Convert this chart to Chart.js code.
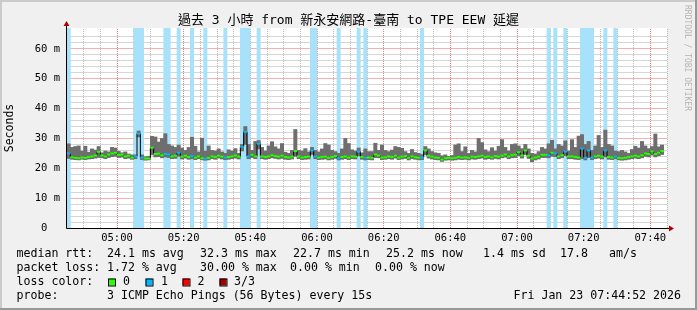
<!DOCTYPE html>
<html>
<head>
<meta charset="utf-8">
<script src="https://cdn.jsdelivr.net/npm/chart.js@4.4.1/dist/chart.umd.min.js"></script>
<style>
  html, body { margin: 0; padding: 0; background: #f0f0f0; }
  canvas { display: block; }
</style>
</head>
<body>
<canvas id="smoke" width="697" height="310"></canvas>
<script>
// one sample per minute, 04:45 .. 07:44 (ms)
var median = [
    25.0, 23.7, 23.5, 23.4, 23.6, 23.5, 23.8, 24.0, 24.3, 25.5,
    24.3, 24.0, 24.6, 25.0, 25.2, 24.5, 24.6, 24.0, 24.2, 23.6,
    24.0, 31.6, 23.6, 23.3, 23.3, 26.9, 24.8, 24.9, 24.4, 24.8,
    24.6, 24.0, 24.2, 25.2, 23.9, 24.2, 23.8, 24.1, 23.6, 24.0,
    23.4, 23.3, 23.5, 24.0, 23.8, 24.2, 23.9, 23.6, 23.8, 24.0,
    24.3, 23.9, 27.2, 32.2, 24.0, 24.5, 24.0, 28.2, 24.0, 23.8,
    24.0, 24.4, 24.1, 23.9, 24.2, 23.8, 23.6, 23.9, 25.8, 24.0,
    23.6, 23.8, 23.9, 26.0, 24.0, 23.6, 23.8, 23.9, 23.5, 23.8,
    24.1, 23.4, 23.8, 24.0, 23.6, 24.0, 23.9, 25.6, 23.8, 23.5,
    23.6, 23.5, 24.6, 24.3, 23.6, 23.7, 24.0, 23.8, 24.2, 23.6,
    23.9, 24.1, 23.5, 24.0, 23.7, 23.5, 23.6, 26.0, 24.2, 23.9,
    23.6, 23.5, 22.9, 23.4, 23.5, 23.4, 23.5, 23.8, 23.6, 23.7,
    23.5, 23.9, 23.8, 24.0, 24.2, 23.8, 24.0, 23.7, 24.1, 23.9,
    24.3, 24.6, 24.0, 24.4, 24.6, 25.4, 24.3, 26.0, 24.2, 23.3,
    23.6, 23.9, 24.5, 24.5, 24.4, 25.2, 25.0, 24.0, 24.4, 25.6,
    24.0, 24.0, 23.8, 23.6, 26.6, 23.5, 26.0, 23.6, 24.0, 24.2,
    23.9, 26.0, 23.8, 23.6, 24.0, 23.5, 23.4, 23.5, 23.8, 24.0,
    24.2, 24.0, 24.4, 25.0, 24.8, 25.6, 24.8, 25.2, 25.8
];
var pingMin = [
    23.3, 23.0, 22.9, 22.8, 23.0, 22.9, 23.1, 23.2, 23.4, 23.6,
    23.5, 23.2, 23.6, 23.9, 24.0, 23.6, 23.7, 23.2, 23.4, 23.0,
    23.2, 30.5, 22.9, 22.7, 22.8, 24.5, 23.8, 23.9, 23.5, 23.8,
    23.6, 23.2, 23.3, 24.0, 23.1, 23.4, 23.0, 23.2, 22.9, 23.2,
    22.8, 22.7, 22.8, 23.2, 23.0, 23.4, 23.1, 22.9, 23.0, 23.2,
    23.4, 23.1, 25.8, 28.0, 23.2, 23.6, 23.2, 26.5, 23.2, 23.0,
    23.2, 23.5, 23.3, 23.1, 23.3, 23.0, 22.9, 23.1, 24.0, 23.2,
    22.9, 23.0, 23.1, 24.6, 23.2, 22.9, 23.0, 23.1, 22.8, 23.0,
    23.3, 22.8, 23.0, 23.2, 22.9, 23.2, 23.1, 24.2, 23.0, 22.8,
    22.9, 22.8, 23.6, 23.5, 22.9, 23.0, 23.2, 23.0, 23.4, 22.9,
    23.1, 23.3, 22.8, 23.2, 23.0, 22.8, 22.9, 24.5, 23.4, 23.1,
    22.9, 22.8, 22.3, 22.7, 22.8, 22.7, 22.8, 23.0, 22.9, 23.0,
    22.8, 23.1, 23.0, 23.2, 23.4, 23.0, 23.2, 23.0, 23.3, 23.1,
    23.5, 23.7, 23.2, 23.5, 23.6, 24.2, 23.4, 24.6, 23.3, 22.2,
    22.8, 23.1, 23.6, 23.6, 23.5, 24.0, 23.9, 23.2, 23.5, 24.2,
    23.2, 23.2, 23.0, 22.9, 23.2, 22.8, 23.6, 22.9, 23.2, 23.4,
    23.1, 23.8, 23.0, 22.9, 23.2, 22.8, 22.7, 22.8, 23.0, 23.2,
    23.4, 23.2, 23.5, 24.0, 23.8, 24.4, 23.8, 24.2, 24.6
];
var pingMax = [
    28.2, 27.0, 27.3, 27.5, 25.8, 27.4, 25.4, 26.5, 26.1, 27.3,
    25.2, 25.8, 25.5, 27.0, 26.8, 25.7, 25.2, 25.5, 24.8, 24.5,
    24.5, 32.5, 24.5, 23.9, 24.0, 30.7, 30.5, 28.8, 30.0, 31.6,
    28.0, 27.5, 27.0, 27.8, 26.8, 26.0, 27.0, 30.4, 27.4, 25.5,
    30.1, 25.8, 27.5, 26.0, 25.8, 26.5, 25.5, 25.0, 26.2, 25.8,
    26.6, 25.0, 28.0, 34.0, 28.0, 26.0, 29.0, 29.3, 27.0, 25.8,
    27.5, 28.9, 27.2, 26.5, 28.3, 25.4, 25.0, 26.0, 33.0, 26.0,
    25.8, 26.6, 25.5, 27.0, 26.0, 25.5, 26.5, 28.3, 27.8, 26.0,
    25.6, 25.0, 26.5, 30.0, 28.3, 26.2, 25.8, 26.8, 25.2, 26.5,
    25.6, 25.6, 28.4, 26.0, 27.8, 26.0, 25.6, 26.1, 27.3, 27.0,
    26.7, 25.6, 25.0, 26.3, 25.3, 25.0, 24.6, 27.3, 26.5, 25.6,
    25.2, 25.0, 24.2, 24.5, 24.0, 24.3, 27.8, 28.2, 25.6, 27.2,
    25.0, 26.0, 25.5, 30.0, 28.6, 26.2, 25.6, 26.9, 25.8, 27.4,
    29.6, 27.0, 25.8, 28.0, 28.2, 27.5, 26.6, 28.0, 26.5, 25.0,
    24.8, 25.6, 27.0, 26.5, 28.2, 29.4, 26.5, 28.0, 27.5, 29.2,
    25.8, 29.6, 27.0, 30.8, 31.3, 28.0, 29.0, 26.0, 27.5, 31.0,
    27.0, 32.8, 28.0, 27.5, 25.8, 25.6, 26.0, 25.5, 25.0, 26.3,
    27.4, 26.8, 29.0, 27.5, 26.6, 27.3, 31.5, 27.2, 27.8
];
// samples where 1 of 3 pings was lost
var lossSamples = [0, 20, 21, 22, 29, 30, 33, 37, 41, 47, 52, 53, 54, 57, 73, 74,
    81, 87, 89, 106, 144, 146, 149, 154, 155, 156, 157, 161, 164];
var tickMinutes = [15, 35, 55, 75, 95, 115, 135, 155, 175];
var tickLabels = ['05:00', '05:20', '05:40', '06:00', '06:20', '06:40', '07:00', '07:20', '07:40'];

var lossColors = ['#26ff00', '#00b8ff', '#ff0000', '#a00000'];
var lossBackColors = ['rgba(0,0,0,0)', '#a8e2fa', '#ffb4b4', '#e09a9a'];
var yTop = 67;
var mono = "'DejaVu Sans Mono', 'Noto Sans CJK TC', monospace";
var majorGrid = '#f08080', minorGrid = '#b8b8b8';
// horizontal rows drawn solid in the blended tint of the dotted pattern
var majorRow = '#f6b0b0', minorRow = '#d6d6d6';

var lossCount = median.map(function () { return 0; });
lossSamples.forEach(function (i) { lossCount[i] = 1; });

function toPoints(arr) {
    return arr.map(function (v, i) { return {x: i + 0.5, y: v}; });
}

function xGridColor(v) {
    if (v <= 0) return null;
    return tickMinutes.indexOf(v) >= 0 ? majorGrid : minorGrid;
}
function yGridColor(v) {
    if (v <= 0 || v % 2 !== 0) return null;
    return v % 10 === 0 ? majorRow : minorRow;
}

// rrdtool style frame, grid, title, legend and axis arrows
var rrdFrame = {
    id: 'rrdFrame',
    beforeDraw: function (chart) {
        var c = chart.ctx, a = chart.chartArea, w = chart.width, h = chart.height;
        c.save();
        c.fillStyle = '#f0f0f0';
        c.fillRect(0, 0, w, h);
        c.fillStyle = '#cbcbcb';
        c.fillRect(0, 0, w, 2);
        c.fillRect(0, 0, 2, h);
        c.fillStyle = '#999999';
        c.fillRect(0, h - 2, w, 2);
        c.fillRect(w - 2, 0, 2, h);
        c.fillStyle = '#ffffff';
        c.fillRect(a.left, a.top, a.right - a.left, a.bottom - a.top);
        c.restore();
    },
    beforeDatasetsDraw: function (chart) {
        var c = chart.ctx, a = chart.chartArea, sx = chart.scales.x, sy = chart.scales.y;
        var x0 = Math.round(a.left), x1 = Math.round(a.right);
        var y0 = Math.round(a.top), y1 = Math.round(a.bottom);
        var k;
        c.save();
        sy.ticks.forEach(function (t) {
            var col = yGridColor(t.value);
            if (!col) return;
            var row = Math.round(sy.getPixelForValue(t.value) - 0.5);
            c.fillStyle = col;
            c.fillRect(x0, row, x1 - x0, 1);
        });
        sx.ticks.forEach(function (t) {
            var col = xGridColor(t.value);
            if (!col) return;
            var colx = Math.round(sx.getPixelForValue(t.value) - 0.5);
            c.fillStyle = col;
            for (k = y1 - 1; k >= y0; k -= 2) c.fillRect(colx, k, 1, 1);
        });
        c.restore();
    },
    afterDraw: function (chart) {
        var c = chart.ctx, a = chart.chartArea;
        var bx = Math.round(a.left) - 0.5, by = Math.round(a.bottom) + 0.5;
        c.save();

        // axes
        c.strokeStyle = '#000000';
        c.lineWidth = 1;
        c.beginPath();
        c.moveTo(bx, by);
        c.lineTo(a.right + 2, by);
        c.moveTo(bx, by);
        c.lineTo(bx, a.top - 3);
        c.stroke();
        c.fillStyle = '#b00000';
        c.beginPath();
        c.moveTo(a.right + 2, by - 3);
        c.lineTo(a.right + 7, by);
        c.lineTo(a.right + 2, by + 3);
        c.closePath();
        c.fill();
        c.beginPath();
        c.moveTo(bx - 3, a.top - 2);
        c.lineTo(bx, a.top - 7);
        c.lineTo(bx + 3, a.top - 2);
        c.closePath();
        c.fill();

        // title
        c.fillStyle = '#000000';
        c.font = '13px ' + mono;
        c.textAlign = 'center';
        c.textBaseline = 'middle';
        c.fillText('過去 3 小時 from 新永安網路-臺南 to TPE EEW 延遲', 348.5, 21);

        // legend
        c.font = '11.6px ' + mono;
        c.textAlign = 'left';
        var rows = [
            [254, [[16.5, 'median rtt:'], [107, '24.1 ms avg'], [200, '32.3 ms max'],
                   [293, '22.7 ms min'], [386, '25.2 ms now'], [483, '1.4 ms sd'],
                   [560, '17.8'], [609, 'am/s']]],
            [268, [[16.5, 'packet loss:'], [107, '1.72 % avg'], [200, '30.00 % max'],
                   [290, '0.00 % min'], [375, '0.00 % now']]],
            [282, [[16.5, 'loss color:'], [123, '0'], [161, '1'], [197.5, '2'], [234, '3/3']]],
            [296, [[16.5, 'probe:'], [107, '3 ICMP Echo Pings (56 Bytes) every 15s']]]
        ];
        rows.forEach(function (r) {
            r[1].forEach(function (t) { c.fillText(t[1], t[0], r[0]); });
        });
        c.textAlign = 'right';
        c.fillText('Fri Jan 23 07:44:52 2026', 681, 296);

        [108, 145.5, 182.5, 219.5].forEach(function (x, k) {
            c.fillStyle = lossColors[k];
            c.fillRect(x, 278.5, 7, 7);
            c.strokeStyle = '#000000';
            c.strokeRect(x + 0.5, 278.5 + 0.5, 7, 7);
        });

        // watermark
        c.translate(687, 5);
        c.rotate(Math.PI / 2);
        c.font = '8px ' + mono;
        c.fillStyle = '#b4b4b4';
        c.textAlign = 'left';
        c.textBaseline = 'middle';
        c.fillText('RRDTOOL / TOBI OETIKER', 0, 0);
        c.restore();
    }
};

var ctx = document.getElementById('smoke').getContext('2d');
var smokeChart = new Chart(ctx, {
    type: 'bar',
    data: {
        datasets: [{
            type: 'line',
            data: toPoints(median),
            showLine: false,
            pointStyle: 'line',
            pointRadius: 1.8,
            pointBorderWidth: 2,
            pointBorderColor: lossCount.map(function (n) { return lossColors[n]; }),
            order: 1
        }, {
            type: 'line',
            data: toPoints(median),
            stepped: 'middle',
            borderColor: '#000000',
            borderWidth: 1,
            pointRadius: 0,
            order: 2
        }, {
            data: pingMin.map(function (v, i) { return {x: i + 0.5, y: [v, pingMax[i]]}; }),
            backgroundColor: '#6e6e6e',
            borderWidth: 0,
            grouped: false,
            barPercentage: 1,
            categoryPercentage: 1,
            order: 3
        }, {
            data: lossCount.map(function (n, i) { return n > 0 ? {x: i + 0.5, y: [0, yTop]} : null; })
                .filter(function (p) { return p; }),
            backgroundColor: lossBackColors[1],
            borderWidth: 0,
            grouped: false,
            barPercentage: 1,
            categoryPercentage: 1,
            order: 4
        }]
    },
    options: {
        responsive: false,
        devicePixelRatio: 1,
        animation: false,
        events: [],
        layout: { padding: { left: 0, right: 30, top: 28, bottom: 65 } },
        plugins: { legend: { display: false }, tooltip: { enabled: false } },
        scales: {
            x: {
                type: 'linear',
                min: 0,
                max: 180,
                offset: false,
                afterFit: function (s) { s.height = 17; },
                border: { display: false },
                grid: { display: false, offset: false, drawTicks: false },
                ticks: {
                    stepSize: 5,
                    maxTicksLimit: 200,
                    autoSkip: false,
                    maxRotation: 0,
                    padding: 4,
                    color: '#000000',
                    font: { family: mono, size: 10.5 },
                    callback: function (v) {
                        var k = tickMinutes.indexOf(v);
                        return k < 0 ? '' : tickLabels[k];
                    }
                }
            },
            y: {
                min: 0,
                max: yTop,
                afterFit: function (s) { s.width = 67; },
                border: { display: false },
                grid: { display: false, drawTicks: false },
                title: {
                    display: true,
                    text: 'Seconds',
                    color: '#000000',
                    font: { family: mono, size: 11.5 },
                    padding: { top: 3, bottom: 0 }
                },
                ticks: {
                    stepSize: 2,
                    maxTicksLimit: 200,
                    autoSkip: false,
                    padding: 7,
                    color: '#000000',
                    font: { family: mono, size: 10.5 },
                    callback: function (v) {
                        if (v % 10 !== 0) return '';
                        return v === 0 ? '0  ' : v + ' m';
                    }
                }
            }
        }
    },
    plugins: [rrdFrame]
});
</script>
</body>
</html>
